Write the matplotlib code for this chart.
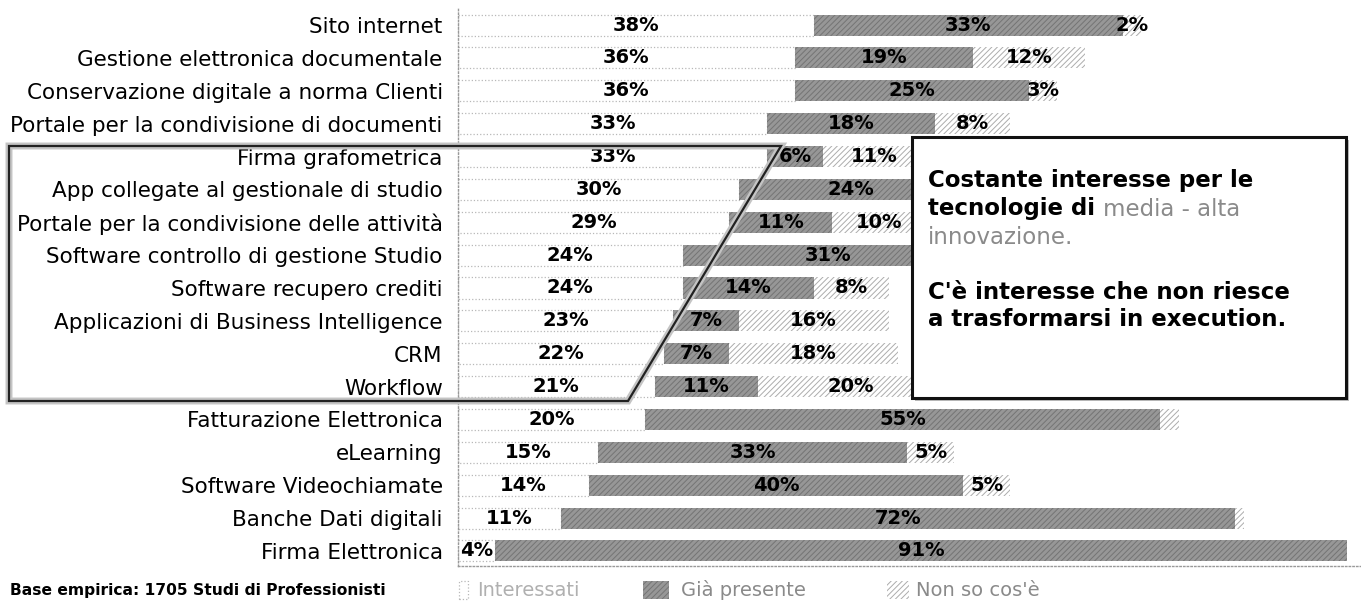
import matplotlib
matplotlib.use('Agg')
import matplotlib.pyplot as plt
from matplotlib.patches import Rectangle, Polygon
from matplotlib.text import Annotation
import numpy as np

categories = [
    "Sito internet",
    "Gestione elettronica documentale",
    "Conservazione digitale a norma Clienti",
    "Portale per la condivisione di documenti",
    "Firma grafometrica",
    "App collegate al gestionale di studio",
    "Portale per la condivisione delle attività",
    "Software controllo di gestione Studio",
    "Software recupero crediti",
    "Applicazioni di Business Intelligence",
    "CRM",
    "Workflow",
    "Fatturazione Elettronica",
    "eLearning",
    "Software Videochiamate",
    "Banche Dati digitali",
    "Firma Elettronica",
]
interessati = [38, 36, 36, 33, 33, 30, 29, 24, 24, 23, 22, 21, 20, 15, 14, 11, 4]
gia_presente = [33, 19, 25, 18, 6, 24, 11, 31, 14, 7, 7, 11, 55, 33, 40, 72, 91]
non_so = [2, 12, 3, 8, 11, 8, 10, 6, 8, 16, 18, 20, 2, 5, 5, 1, 0]
show_non_so_label = [True, True, True, True, True, False, True, False, True, True,
                     True, True, False, True, True, False, False]
series_names = ["Interessati", "Già presente", "Non so cos'è"]
footnote = "Base empirica: 1705 Studi di Professionisti"

W, H = 1361, 602
plt.rcParams['hatch.linewidth'] = 0.7
plt.rcParams['font.family'] = ['DejaVu Sans']

fig = plt.figure(figsize=(W / 100, H / 100), dpi=100)


def fx(px):
    return px / W


def fy(py):
    return 1 - py / H


ax = fig.add_axes([fx(458), fy(566), fx(W - 458), (566 - 8) / H])

y = np.arange(len(categories))
inter = np.array(interessati)
gia = np.array(gia_presente)
nso = np.array(non_so)
bh = 0.64

ax.barh(y, inter, height=bh, color='white', edgecolor='#b8b8b8',
        linestyle=':', linewidth=0.9)
ax.barh(y, gia, left=inter, height=bh, color='#979797', edgecolor='#747474',
        hatch='//////', linewidth=0)
ax.barh(y, nso, left=inter + gia, height=bh, color='white', edgecolor='#acacac',
        hatch='//////', linewidth=0)

lab_kw = dict(ha='center', va='center', fontsize=14, fontweight='bold', color='black')
for i in range(len(categories)):
    ax.text(inter[i] / 2, y[i], f"{inter[i]}%", **lab_kw)
    ax.text(inter[i] + gia[i] / 2, y[i], f"{gia[i]}%", **lab_kw)
    if show_non_so_label[i] and nso[i] > 0:
        ax.text(inter[i] + gia[i] + nso[i] / 2, y[i], f"{nso[i]}%", **lab_kw)

ax.set_xlim(0, (W - 458) / 9.36)
ax.set_ylim(len(categories) - 1 + 0.46, -0.52)
ax.set_yticks(y)
ax.set_yticklabels(categories, fontsize=15.5, color='black')
ax.tick_params(axis='y', length=0, pad=11)
ax.set_xticks([])
for s in ['top', 'right']:
    ax.spines[s].set_visible(False)
for s in ['left', 'bottom']:
    ax.spines[s].set_linestyle(':')
    ax.spines[s].set_color('#999999')
    ax.spines[s].set_linewidth(1.0)

# parallelogram outline around the middle group
pts = [(9, 146), (781, 146), (628, 401), (9, 401)]
halo = Polygon([(fx(a), fy(b)) for a, b in pts], closed=True, transform=fig.transFigure,
               fill=False, edgecolor='#c4c4c4', linewidth=5, zorder=4)
outline = Polygon([(fx(a), fy(b)) for a, b in pts], closed=True, transform=fig.transFigure,
                  fill=False, edgecolor='#222222', linewidth=1.6, zorder=5)
fig.add_artist(halo)
fig.add_artist(outline)

# callout box
bx0, by0, bx1, by1 = 912, 137, 1346, 398
shadow = Rectangle((fx(bx0 + 3), fy(by1 + 3)), fx(bx1 - bx0), (by1 - by0) / H,
                   transform=fig.transFigure, facecolor='#bbbbbb', edgecolor='none', zorder=6)
box = Rectangle((fx(bx0), fy(by1)), fx(bx1 - bx0), (by1 - by0) / H,
                transform=fig.transFigure, facecolor='white', edgecolor='#111111',
                linewidth=2.2, zorder=7)
fig.add_artist(shadow)
fig.add_artist(box)

tfs = 16.5
tkw = dict(fontsize=tfs, va='center', ha='left', zorder=8)
tx = fx(928)
fig.text(tx, fy(181), "Costante interesse per le", fontweight='bold', color='black', **tkw)
t2 = fig.text(tx, fy(209), "tecnologie di", fontweight='bold', color='black', **tkw)
a2 = Annotation("media - alta", xy=(1, 0), xycoords=t2, xytext=(6, 0),
                textcoords='offset points', va='bottom', ha='left', fontsize=tfs,
                color='#8a8a8a', zorder=8)
fig.add_artist(a2)
fig.text(tx, fy(237), "innovazione.", color='#8a8a8a', **tkw)
fig.text(tx, fy(292), "C'è interesse che non riesce", fontweight='bold', color='black', **tkw)
fig.text(tx, fy(320), "a trasformarsi in execution.", fontweight='bold', color='black', **tkw)

# footnote and legend
fig.text(fx(10), fy(591), footnote, fontsize=11.2, fontweight='bold', va='center', ha='left')
leg_y0, leg_h = 581, 18
lfs = 14
fig.add_artist(Rectangle((fx(459), fy(leg_y0 + leg_h)), fx(9), leg_h / H, transform=fig.transFigure,
                         facecolor='white', edgecolor='#b8b8b8', linestyle=':', linewidth=0.9))
fig.text(fx(477), fy(590), series_names[0], fontsize=lfs, color='#b0b0b0', va='center')
fig.add_artist(Rectangle((fx(643), fy(leg_y0 + leg_h)), fx(26), leg_h / H, transform=fig.transFigure,
                         facecolor='#979797', edgecolor='#747474', hatch='//////', linewidth=0))
fig.text(fx(681), fy(590), series_names[1], fontsize=lfs, color='#8a8a8a', va='center')
fig.add_artist(Rectangle((fx(887), fy(leg_y0 + leg_h)), fx(22), leg_h / H, transform=fig.transFigure,
                         facecolor='white', edgecolor='#acacac', hatch='//////', linewidth=0))
fig.text(fx(916), fy(590), series_names[2], fontsize=lfs, color='#8a8a8a', va='center')

fig.savefig('out.png', dpi=100)
